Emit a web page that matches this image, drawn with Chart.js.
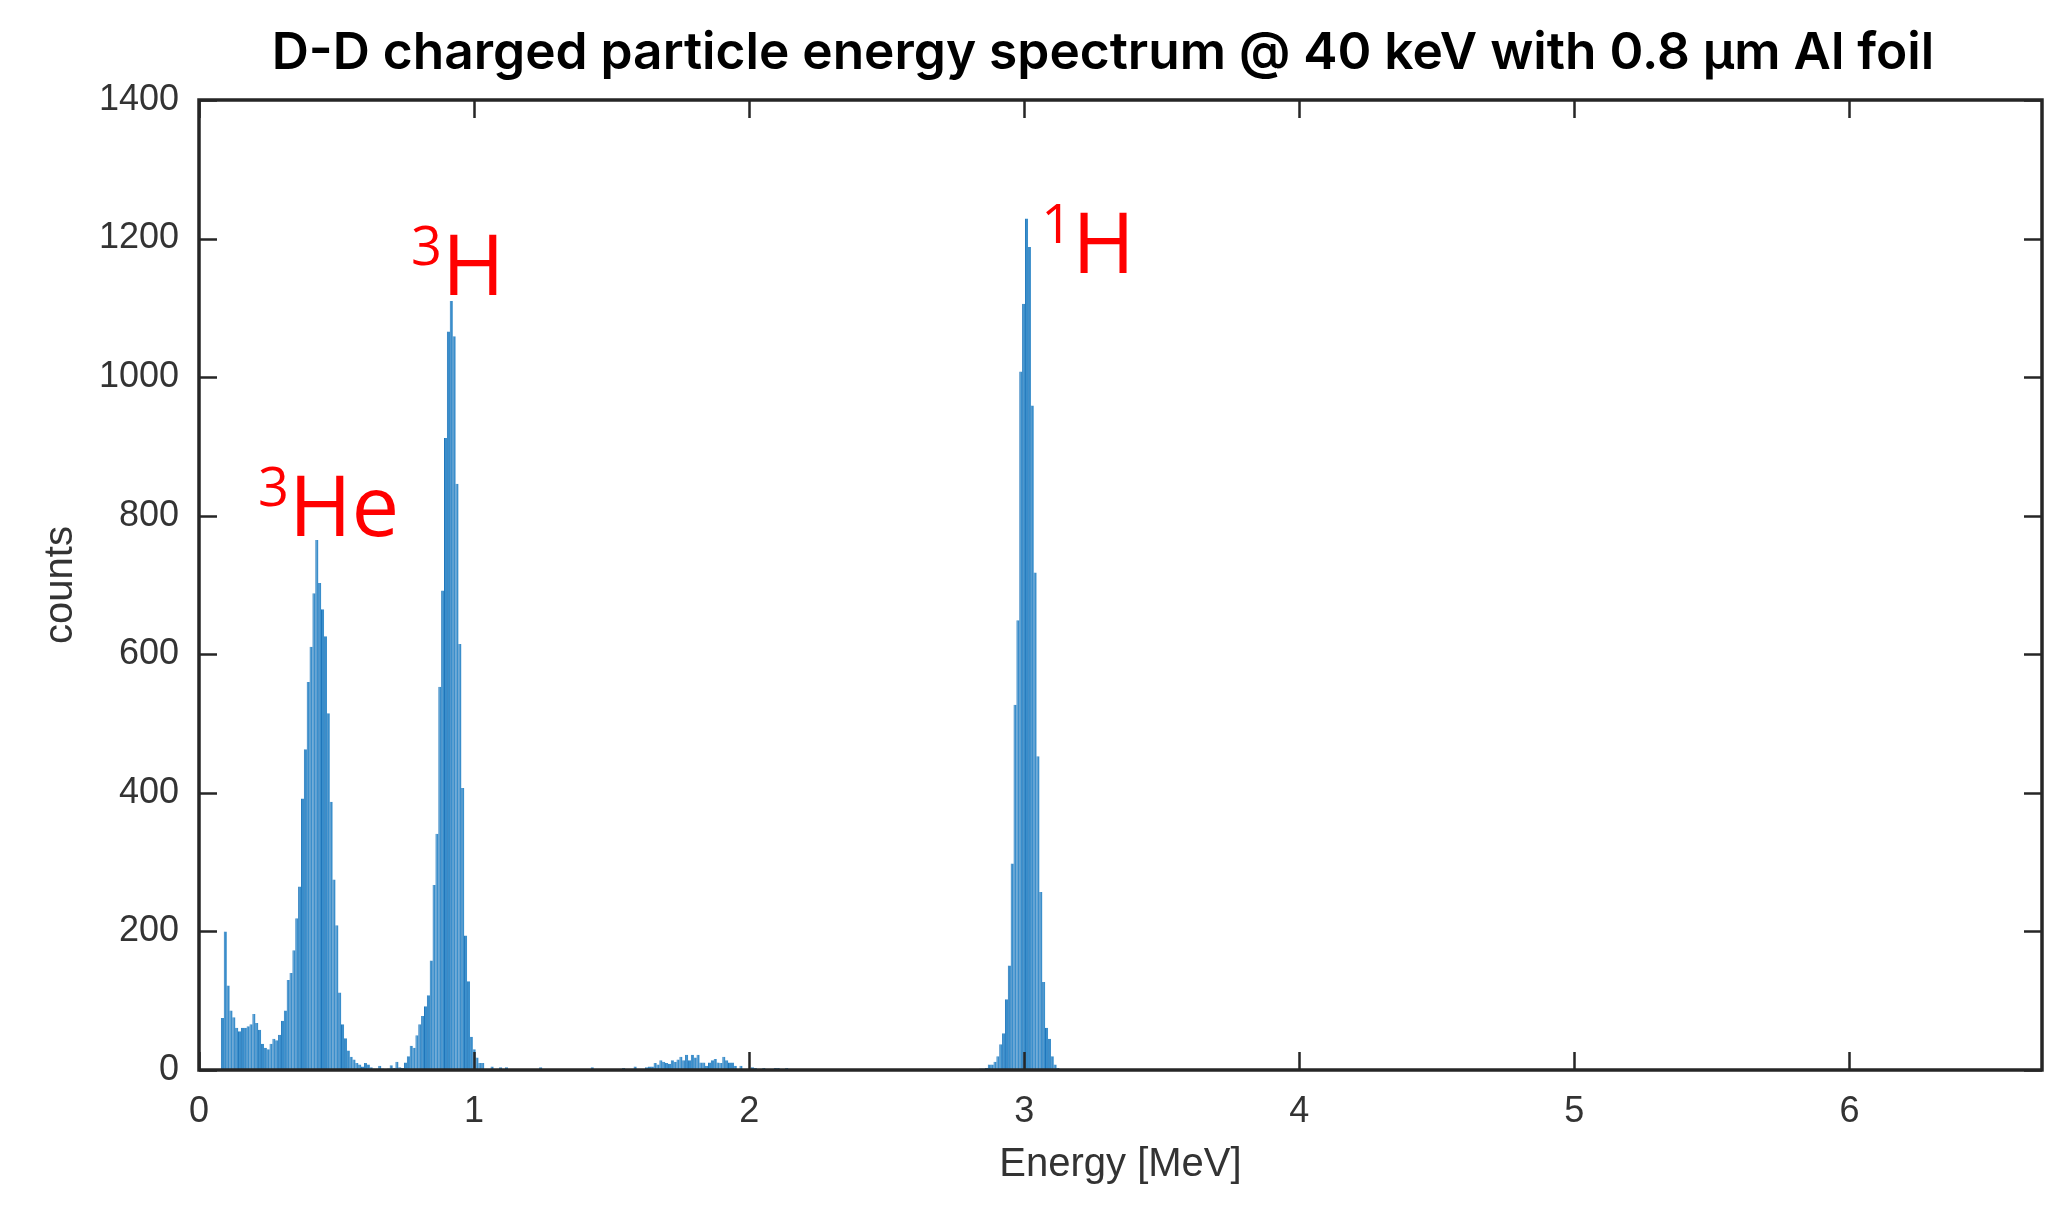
<!DOCTYPE html>
<html>
<head>
<meta charset="utf-8">
<title>D-D charged particle energy spectrum</title>
<script src="https://cdn.jsdelivr.net/npm/chart.js@4.4.1/dist/chart.umd.min.js"></script>
<style>
  html, body { margin: 0; padding: 0; background: #fff; }
  #wrap { width: 2053px; height: 1218px; }
</style>
</head>
<body>
<div id="wrap"><canvas id="spectrum" width="2053" height="1218"></canvas></div>
<script>
// histogram bins, MeV
const binWidth = 0.0104;
const xTicks = [0, 1, 2, 3, 4, 5, 6];
const yTicks = [0, 200, 400, 600, 800, 1000, 1200, 1400];

// low-energy tail + 3He peak
const heliumStart = 0.080;
const heliumCounts = [75, 200, 122, 86, 76, 61, 56, 61, 61, 63, 66, 81, 68, 58, 38, 32, 30, 38, 45, 43,
  51, 71, 86, 130, 140, 173, 219, 265, 392, 463, 560, 611, 688, 765, 703, 665, 626, 515, 387, 275,
  209, 112, 66, 46, 28, 19, 15, 10, 8, 5, 10, 8, 4, 2, 2, 6];

// 3H peak
const tritonStart = 0.6624;
const tritonCounts = [2, 0, 2, 7, 3, 12, 4, 3, 11, 20, 35, 32, 50, 66, 78, 92, 108, 158, 267, 341,
  553, 692, 912, 1066, 1110, 1059, 846, 615, 407, 194, 128, 48, 30, 18, 10, 10];

// sparse counts and the small bump around 1.6-2 MeV
const bumpStart = 1.05;
const bumpCounts = [0, 5, 0, 0, 4, 0, 4, 0, 0, 0, 0, 0, 0, 0, 0, 0, 0, 0, 4, 0,
  0, 0, 0, 0, 0, 0, 0, 0, 0, 0, 0, 0, 0, 0, 0, 0, 4, 0, 0, 0,
  0, 0, 0, 0, 0, 0, 0, 3, 0, 0, 0, 5, 0, 0, 0, 4, 5, 5, 10, 8,
  14, 12, 10, 9, 14, 12, 15, 19, 14, 22, 14, 22, 18, 22, 11, 11, 6, 11, 14, 16,
  11, 10, 19, 14, 11, 11, 6, 0, 6, 0, 0, 0, 4, 3, 0, 0, 3, 0, 0, 0, 3, 3, 0, 0, 3];

// 1H peak
const protonStart = 2.8368;
const protonCounts = [2, 2, 3, 8, 8, 12, 20, 37, 53, 102, 151, 298, 527, 649, 1008, 1106, 1229, 1188, 959, 718,
  453, 257, 127, 61, 45, 20, 8, 3];

const isotopeLabels = [
  { sup: '3', base: 'He', energy: 0.2145, counts: 771 },
  { sup: '3', base: 'H', energy: 0.771, counts: 1118 },
  { sup: '1', base: 'H', energy: 3.062, counts: 1151 }
];

const titleText = 'D-D charged particle energy spectrum @ 40 keV with 0.8 \u03bcm Al foil';

const segments = [
  [heliumStart, heliumCounts],
  [tritonStart, tritonCounts],
  [bumpStart, bumpCounts],
  [protonStart, protonCounts]
];
const points = segments.flatMap(([start, counts]) =>
  counts.map((c, i) => ({ x: start + (i + 0.5) * binWidth, y: c })));

const axisColor = '#262626';
const tickFont = { family: '"Liberation Sans", Arial, sans-serif', size: 36 };
const labelFont = { family: '"Liberation Sans", Arial, sans-serif', size: 40 };

// MATLAB style box with inward ticks on all four sides
const boxPlugin = {
  id: 'box',
  afterDatasetsDraw(chart) {
    const { ctx, chartArea: a, scales: { x, y } } = chart;
    const len = 18;
    ctx.save();
    ctx.strokeStyle = axisColor;
    ctx.lineWidth = 2.5;
    ctx.beginPath();
    xTicks.forEach((v) => {
      const px = Math.round(x.getPixelForValue(v)) + 0.5;
      ctx.moveTo(px, a.bottom); ctx.lineTo(px, a.bottom - len);
      ctx.moveTo(px, a.top); ctx.lineTo(px, a.top + len);
    });
    yTicks.forEach((v) => {
      const py = Math.round(y.getPixelForValue(v)) + 0.5;
      ctx.moveTo(a.left, py); ctx.lineTo(a.left + len, py);
      ctx.moveTo(a.right, py); ctx.lineTo(a.right - len, py);
    });
    ctx.stroke();
    ctx.lineWidth = 3.5;
    ctx.strokeRect(a.left, a.top, a.right - a.left, a.bottom - a.top);
    ctx.restore();
  }
};

const textPlugin = {
  id: 'texts',
  afterDraw(chart) {
    const { ctx, scales: { x, y } } = chart;
    ctx.save();
    // title, fitted to the reference width
    let size = 46;
    ctx.font = `600 ${size}px Inter, "Open Sans", sans-serif`;
    const w = ctx.measureText(titleText).width;
    size = size * 1663 / w;
    ctx.font = `600 ${size}px Inter, "Open Sans", sans-serif`;
    ctx.fillStyle = '#000';
    ctx.textAlign = 'center';
    ctx.textBaseline = 'alphabetic';
    ctx.fillText(titleText, 1103, 69);

    // isotope annotations
    ctx.fillStyle = '#ff0000';
    ctx.textAlign = 'left';
    isotopeLabels.forEach((l) => {
      const px = x.getPixelForValue(l.energy);
      const py = y.getPixelForValue(l.counts);
      ctx.font = '54px "Open Sans", sans-serif';
      ctx.fillText(l.sup, px, py - 30);
      const sw = ctx.measureText(l.sup).width;
      ctx.font = '85px "Open Sans", sans-serif';
      ctx.fillText(l.base, px + sw, py);
    });
    ctx.restore();
  }
};

new Chart(document.getElementById('spectrum'), {
  type: 'bar',
  data: {
    datasets: [{
      data: points,
      backgroundColor: '#3a8ecb',
      borderColor: '#1f76bb',
      borderWidth: { left: 1, right: 0, top: 0, bottom: 0 },
      borderSkipped: false,
      barPercentage: 1.1,
      categoryPercentage: 1
    }]
  },
  options: {
    responsive: false,
    animation: false,
    layout: { padding: { top: 100, right: 11, left: 0, bottom: 0 } },
    plugins: { legend: { display: false }, tooltip: { enabled: false }, title: { display: false } },
    scales: {
      x: {
        type: 'linear', min: 0, max: 6.7, offset: false,
        afterBuildTicks: (s) => { s.ticks = xTicks.map((v) => ({ value: v })); },
        afterFit: (s) => { s.height = 148; },
        grid: { display: false, drawTicks: false, offset: false },
        border: { display: false },
        ticks: { font: tickFont, color: '#333', padding: 20, maxRotation: 0, callback: (v) => String(v) },
        title: { display: true, text: 'Energy [MeV]', font: labelFont, color: '#333', padding: { top: 0, bottom: 29 } }
      },
      y: {
        min: 0, max: 1400,
        afterBuildTicks: (s) => { s.ticks = yTicks.map((v) => ({ value: v })); },
        afterFit: (s) => { s.width = 199; },
        grid: { display: false, drawTicks: false },
        border: { display: false },
        ticks: { font: tickFont, color: '#333', padding: 20, callback: (v) => String(v) },
        title: { display: true, text: 'counts', font: labelFont, color: '#333', padding: { top: 37, bottom: 0 } }
      }
    }
  },
  plugins: [boxPlugin, textPlugin]
});
</script>
</body>
</html>
